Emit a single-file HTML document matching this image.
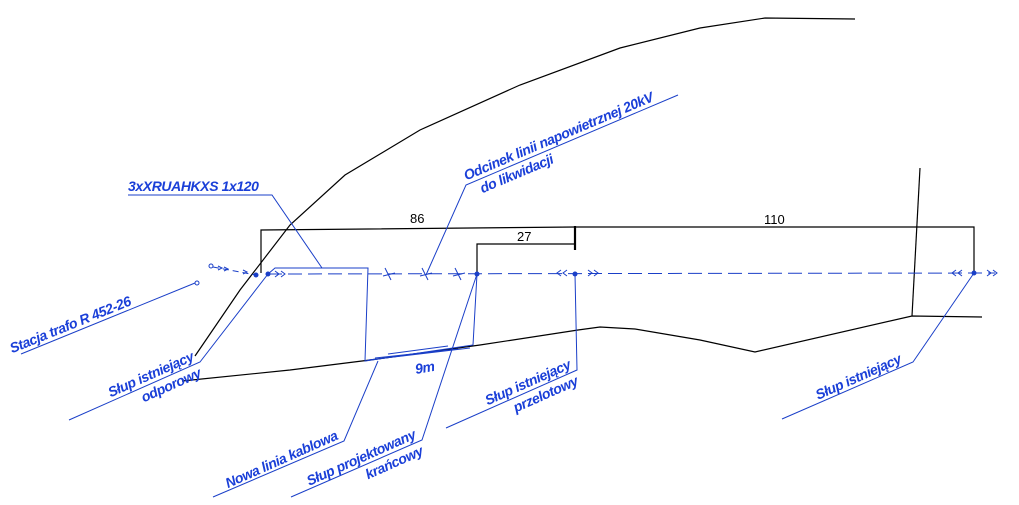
<!DOCTYPE html>
<html><head><meta charset="utf-8"><style>
html,body{margin:0;padding:0;background:#fff;}
svg{display:block;}
.b{stroke:#000;stroke-width:1.2;fill:none;}
.u{stroke:#1a3fc8;stroke-width:1;fill:none;}
.t{font-family:"Liberation Sans",sans-serif;font-style:italic;font-weight:bold;font-size:14px;letter-spacing:-0.4px;fill:#1a3fd8;}
.d{font-family:"Liberation Sans",sans-serif;font-size:13px;fill:#000;}
</style></head><body>
<svg width="1019" height="505" viewBox="0 0 1019 505" xmlns="http://www.w3.org/2000/svg">
<polyline class="b" points="195,356 240,290 290,225 345,175 420,130 520,85 620,48 700,28 765,18 855,19"/>
<polyline class="b" points="182,381 290,370 370,360 480,345 578,330 600,327 635,329 700,340 755,352 912,316 982,317"/>
<polyline class="b" points="920,168 912,316"/>
<polyline class="b" points="261,273 261,230 575,227 974,227 974,273"/>
<polyline class="b" points="477,273 477,244 575,244"/>
<line x1="575" y1="226" x2="575" y2="250" stroke="#000" stroke-width="2.2"/>
<text class="d" x="410" y="223">86</text>
<text class="d" x="517" y="241">27</text>
<text class="d" x="764" y="224">110</text>
<line class="u" x1="268" y1="274" x2="995" y2="273" stroke-dasharray="14,6" stroke-width="1.3"/>
<line class="u" x1="213" y1="267" x2="256" y2="275" stroke-dasharray="6,4"/>
<circle cx="211" cy="266" r="2" fill="#fff" stroke="#1a3fc8"/>
<circle cx="197" cy="283" r="2" fill="#fff" stroke="#1a3fc8"/>
<g fill="#1a3fc8">
<circle cx="256" cy="275" r="2.5"/><circle cx="268" cy="274" r="2.5"/>
<circle cx="477" cy="274" r="2.5"/><circle cx="575" cy="274" r="2.5"/><circle cx="974" cy="273" r="2.5"/>
</g>
<g class="u">
<path d="M275,271 l4,3 l-4,3 M281,271 l4,3 l-4,3 M588,270 l4,3 l-4,3 M594,270 l4,3 l-4,3 M987,270 l4,3 l-4,3 M993,270 l4,3 l-4,3"/>
<path d="M567,270 l-4,3 l4,3 M561,270 l-4,3 l4,3 M962,270 l-4,3 l4,3 M956,270 l-4,3 l4,3"/>
<path d="M385,268 l6,12 M422,268 l6,12 M455,268 l6,12 M383,276 l12,-3 M420,276 l12,-3 M453,276 l12,-3"/>
<path d="M218,266 l4,2 l-4,2 M224,267 l4,2 l-4,2 M243,270 l4,2 l-4,2"/>
</g>
<polyline class="u" points="268,274 275,268 322,268 368,268 365,361 473,345 477,274"/>
<line class="u" x1="388" y1="354" x2="448" y2="346"/>
<line class="u" x1="375" y1="358" x2="458" y2="349"/>
<line class="u" x1="368" y1="360" x2="470" y2="348"/>
<polyline class="u" points="128,195 272,195 322,268"/>
<polyline class="u" points="678,95 466,185 426,275"/>
<polyline class="u" points="21,354 195,283"/>
<polyline class="u" points="69,420 200,362 268,274"/>
<polyline class="u" points="213,497 344,441 378,361"/>
<polyline class="u" points="291,497 422,440 477,274"/>
<polyline class="u" points="446,428 577,370 575,274"/>
<polyline class="u" points="782,419 913,362 974,273"/>
<text class="t" x="128" y="191">3xXRUAHKXS 1x120</text>
<text class="t" transform="translate(466,185) rotate(-23)" x="2" y="-4">Odcinek linii napowietrznej 20kV</text>
<text class="t" transform="translate(466,185) rotate(-23)" x="12" y="14">do likwidacji</text>
<text class="t" transform="translate(21,354) rotate(-22)" x="-8" y="-4">Stacja trafo R 452-26</text>
<text class="t" transform="translate(200,362) rotate(-24)" x="-4" y="-4" text-anchor="end">Słup istniejący</text>
<text class="t" transform="translate(200,362) rotate(-24)" x="-4" y="14" text-anchor="end">odporowy</text>
<text class="t" transform="translate(344,441) rotate(-24)" x="-4" y="-4" text-anchor="end">Nowa linia kablowa</text>
<text class="t" transform="translate(422,440) rotate(-24)" x="-4" y="-4" text-anchor="end">Słup projektowany</text>
<text class="t" transform="translate(422,440) rotate(-24)" x="-4" y="14" text-anchor="end">krańcowy</text>
<text class="t" transform="translate(577,370) rotate(-24)" x="-4" y="-4" text-anchor="end">Słup istniejący</text>
<text class="t" transform="translate(577,370) rotate(-24)" x="-4" y="14" text-anchor="end">przelotowy</text>
<text class="t" transform="translate(913,362) rotate(-24)" x="-10" y="-4" text-anchor="end">Słup istniejący</text>
<text class="t" transform="translate(416,374) rotate(-10)">9m</text>
</svg>
</body></html>
